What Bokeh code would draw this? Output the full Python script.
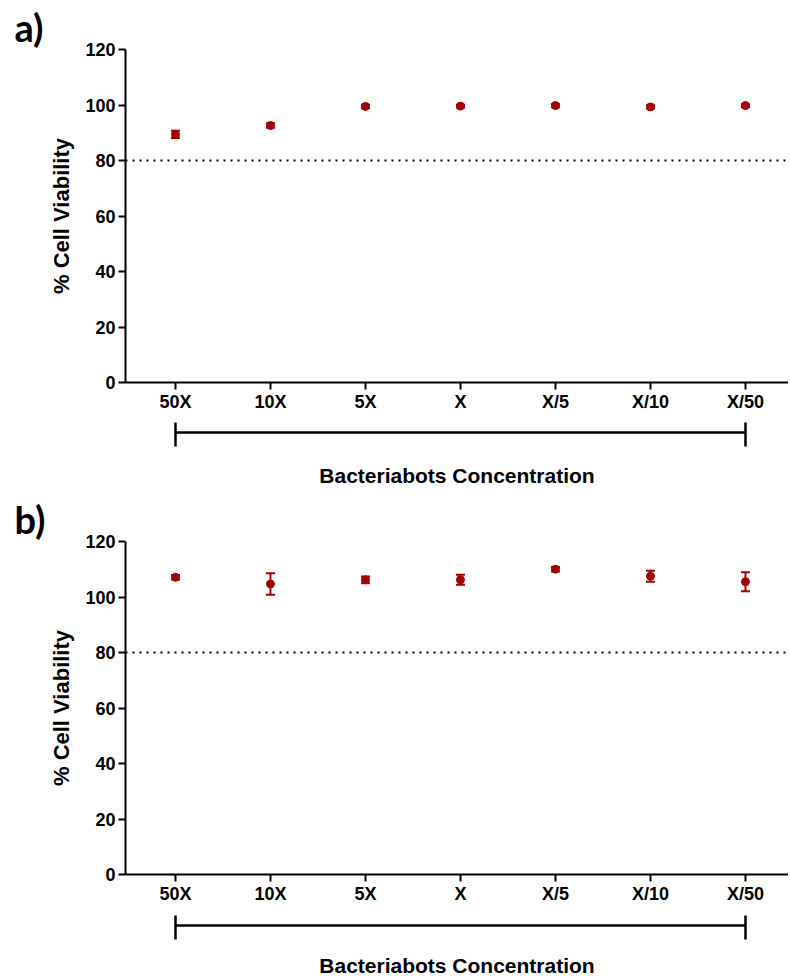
import numpy as np
from bokeh.plotting import figure
from bokeh.models import (Range1d, FixedTicker, Span, Whisker, TeeHead,
                          ColumnDataSource, Title)
from bokeh.layouts import column
from bokeh.embed import file_html
from bokeh.resources import INLINE

# ---- data ----
categories = ["50X", "10X", "5X", "X", "X/5", "X/10", "X/50"]
viability_a = [89.4, 92.6, 99.5, 99.6, 99.8, 99.3, 99.8]
error_a = [1.3, 0.8, 0.6, 0.5, 0.6, 0.6, 0.5]
viability_b = [107.1, 104.7, 106.2, 106.2, 110.0, 107.5, 105.5]
error_b = [0.8, 3.9, 1.2, 1.8, 0.8, 2.0, 3.4]
threshold = 80
y_ticks = [0, 20, 40, 60, 80, 100, 120]
x_label = "Bacteriabots Concentration"
y_label = "% Cell Viability"
panel_letters = ["a)", "b)"]

RED = "#A30000"
FONT = "Liberation Sans"
X_START, X_END = -0.526, 6.453
FRAME_W = 663
LEFT = 125


def style_fig(p):
    p.grid.visible = False
    p.outline_line_color = None
    p.background_fill_color = "white"
    p.border_fill_color = "white"


def make_panel(letter, vals, errs, top):
    xs = np.arange(len(categories))
    v = np.array(vals, dtype=float)
    e = np.array(errs, dtype=float)
    src = ColumnDataSource(dict(x=xs, y=v, lower=v - e, upper=v + e))

    p = figure(frame_width=FRAME_W, frame_height=333,
               min_border_left=LEFT, min_border_right=0,
               min_border_top=top, min_border_bottom=32,
               x_range=Range1d(X_START, X_END), y_range=Range1d(0, 120),
               output_backend="svg", toolbar_location=None)
    style_fig(p)

    # panel letter
    p.title = Title(text=letter, align="left", offset=-111, standoff=0,
                    text_font="Lato", text_font_style="bold", text_font_size="38px",
                    text_color="black")

    # x axis with category labels
    xa = p.xaxis[0]
    xa.ticker = FixedTicker(ticks=[float(i) for i in xs])
    xa.major_label_overrides = {int(i): c for i, c in zip(xs, categories)}
    xa.axis_line_width = 2
    xa.major_tick_line_width = 2
    xa.major_tick_out = 7
    xa.major_tick_in = 0
    xa.minor_tick_out = 0
    xa.minor_tick_in = 0
    xa.major_label_text_font = FONT
    xa.major_label_text_font_style = "bold"
    xa.major_label_text_font_size = "18px"
    xa.major_label_text_color = "black"
    xa.major_label_standoff = 2

    # y axis
    ya = p.yaxis[0]
    ya.ticker = FixedTicker(ticks=y_ticks)
    ya.axis_line_width = 2
    ya.major_tick_line_width = 2
    ya.major_tick_out = 7
    ya.major_tick_in = 0
    ya.minor_tick_out = 0
    ya.minor_tick_in = 0
    ya.major_label_text_font = FONT
    ya.major_label_text_font_style = "bold"
    ya.major_label_text_font_size = "18px"
    ya.major_label_text_color = "black"
    ya.major_label_standoff = 3
    ya.axis_label = y_label
    ya.axis_label_text_font = FONT
    ya.axis_label_text_font_style = "bold"
    ya.axis_label_text_font_size = "22px"
    ya.axis_label_text_color = "black"
    ya.axis_label_standoff = 8

    # 80 % threshold
    p.add_layout(Span(location=threshold, dimension="width", line_color="black",
                      line_width=2, line_dash="2 5"))

    # error bars and points
    p.add_layout(Whisker(source=src, base="x", upper="upper", lower="lower",
                         line_color=RED, line_width=2,
                         upper_head=TeeHead(size=9, line_color=RED, line_width=2),
                         lower_head=TeeHead(size=9, line_color=RED, line_width=2)))
    p.scatter("x", "y", source=src, size=8, color=RED, marker="circle")
    return p


def make_bracket(top, bottom, lab_standoff):
    """A thin strip whose x axis is the bracket spanning all concentrations."""
    last = len(categories) - 1
    q = figure(frame_width=FRAME_W, frame_height=1,
               min_border_left=LEFT, min_border_right=0,
               min_border_top=top, min_border_bottom=bottom,
               x_range=Range1d(X_START, X_END), y_range=Range1d(0, 1),
               y_axis_location=None,
               output_backend="svg", toolbar_location=None)
    style_fig(q)
    br = q.xaxis[0]
    br.ticker = FixedTicker(ticks=[0.0, float(last)])
    br.bounds = (0, last)
    br.major_label_overrides = {0: "", last: ""}
    br.axis_line_width = 2.5
    br.major_tick_line_width = 2.5
    br.major_tick_in = 10
    br.major_tick_out = 14
    br.minor_tick_in = 0
    br.minor_tick_out = 0
    br.major_label_standoff = 0
    br.major_label_text_font_size = "10px"
    br.axis_label = x_label
    br.axis_label_standoff = lab_standoff
    br.axis_label_text_font = FONT
    br.axis_label_text_font_style = "bold"
    br.axis_label_text_font_size = "21px"
    br.axis_label_text_color = "black"
    return q


pa = make_panel(panel_letters[0], viability_a, error_a, 49)
ba = make_bracket(17, 56, 17)
pb = make_panel(panel_letters[1], viability_b, error_b, 52)
bb = make_bracket(18, 52, 14)

layout = column(pa, ba, pb, bb)
open("out.html", "w").write(file_html(layout, INLINE))
